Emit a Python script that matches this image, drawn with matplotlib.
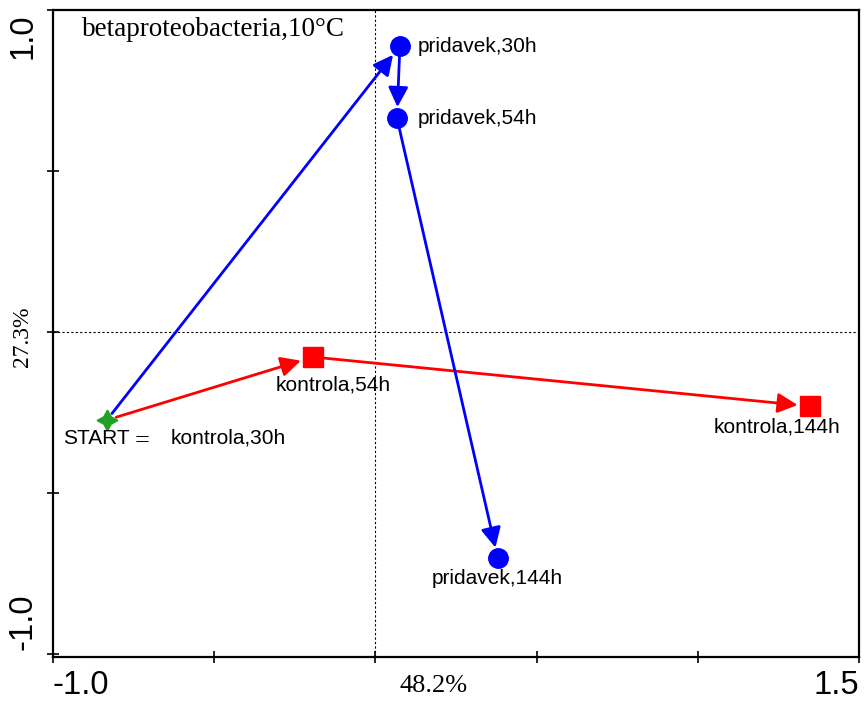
import matplotlib
matplotlib.use('Agg')
import matplotlib.pyplot as plt
import numpy as np

# scores (axis 1 = 48.2 %, axis 2 = 27.3 %)
start_xy = (-0.833, -0.274)
kontrola_names = ['kontrola,54h', 'kontrola,144h']
kontrola_x = [-0.194, 1.348]
kontrola_y = [-0.078, -0.231]
pridavek_names = ['pridavek,30h', 'pridavek,54h', 'pridavek,144h']
pridavek_x = [0.076, 0.067, 0.380]
pridavek_y = [0.888, 0.664, -0.704]
xticks = [-1.0, -0.5, 0.0, 0.5, 1.0, 1.5]
yticks = [-1.0, -0.5, 0.0, 0.5, 1.0]

fig = plt.figure(figsize=(8.67, 7.01), dpi=100)
ax = fig.add_axes([0.0611, 0.0628, 0.9297, 0.9229])
ax.set_xlim(-1.0, 1.5)
ax.set_ylim(-1.01, 1.0)

ax.axvline(0, color='k', lw=0.8, ls=(0, (2, 2)), zorder=1)
ax.axhline(0, color='k', lw=0.8, ls=(0, (2, 2)), zorder=1)

def arrow(p0, p1, color, sa=5, sb=8):
    ax.annotate('', xy=p1, xytext=p0,
                arrowprops=dict(arrowstyle='-|>', color=color, lw=2.0,
                                mutation_scale=30, shrinkA=sa, shrinkB=sb),
                zorder=2)

# control path (red)
kpath = [start_xy] + list(zip(kontrola_x, kontrola_y))
for a, b in zip(kpath[:-1], kpath[1:]):
    arrow(a, b, 'red', sa=7, sb=9)
# addition path (blue)
ppath = [start_xy] + list(zip(pridavek_x, pridavek_y))
for a, b in zip(ppath[:-1], ppath[1:]):
    arrow(a, b, 'blue', sa=6, sb=8)

ax.plot(kontrola_x, kontrola_y, 's', color='red', ms=14, ls='none', zorder=3)
ax.plot(pridavek_x, pridavek_y, 'o', color='blue', ms=14, ls='none', zorder=3)
ax.plot(*start_xy, marker=(4, 1, 0), color='#22a022', ms=15, ls='none', zorder=3)

fs = 15
sans = 'Liberation Sans'
ax.text(pridavek_x[0] + 0.056, pridavek_y[0], pridavek_names[0], fontsize=fs,
        family=sans, va='center', ha='left')
ax.text(pridavek_x[1] + 0.065, pridavek_y[1], pridavek_names[1], fontsize=fs,
        family=sans, va='center', ha='left')
ax.text(pridavek_x[2] - 0.003, pridavek_y[2] - 0.062, pridavek_names[2], fontsize=fs,
        family=sans, va='center', ha='center')
ax.text(kontrola_x[0] + 0.063, kontrola_y[0] - 0.087, kontrola_names[0], fontsize=fs,
        family=sans, va='center', ha='center')
ax.text(kontrola_x[1] - 0.102, kontrola_y[1] - 0.065, kontrola_names[1], fontsize=fs,
        family=sans, va='center', ha='center')
ax.text(start_xy[0] - 0.136, start_xy[1] - 0.056, 'START', fontsize=fs,
        family=sans, va='center', ha='left')
ax.text(start_xy[0] + 0.087, start_xy[1] - 0.066, '=', fontsize=19,
        family='Liberation Serif', va='center', ha='left')
ax.text(start_xy[0] + 0.199, start_xy[1] - 0.056, 'kontrola,30h', fontsize=fs,
        family=sans, va='center', ha='left')

ax.text(-0.91, 0.941, 'betaproteobacteria,10°C', fontsize=19.5,
        family='Liberation Serif', va='center', ha='left')

# ticks: only ends labelled, centre shows the explained variance
ax.set_xticks(xticks)
ax.set_xticklabels(['' for t in xticks])
ax.set_yticks(yticks)
ax.set_yticklabels(['' for t in yticks])
ax.tick_params(direction='inout', length=8, width=1.2, top=False, right=False)
for s in ax.spines.values():
    s.set_linewidth(1.6)

ax.text(-1.0, -1.05, '-1.0', fontsize=23.5, family=sans, ha='left', va='top')
ax.text(1.5, -1.05, '1.5', fontsize=23.5, family=sans, ha='right', va='top')
ax.text(0.076, -1.065, '48.2%', fontsize=19, family='Liberation Serif', ha='left', va='top')
ax.text(-1.045, 0.92, '1.0', fontsize=23.5, family=sans, rotation=90,
        ha='right', va='center')
ax.text(-1.045, -0.9, '-1.0', fontsize=23.5, family=sans, rotation=90,
        ha='right', va='center')
ax.text(-1.062, -0.016, '27.3%', fontsize=17, family='Liberation Serif', rotation=90,
        ha='right', va='center')
for t in ax.texts:
    t.set_clip_on(False)

fig.savefig('out.png', dpi=100)
